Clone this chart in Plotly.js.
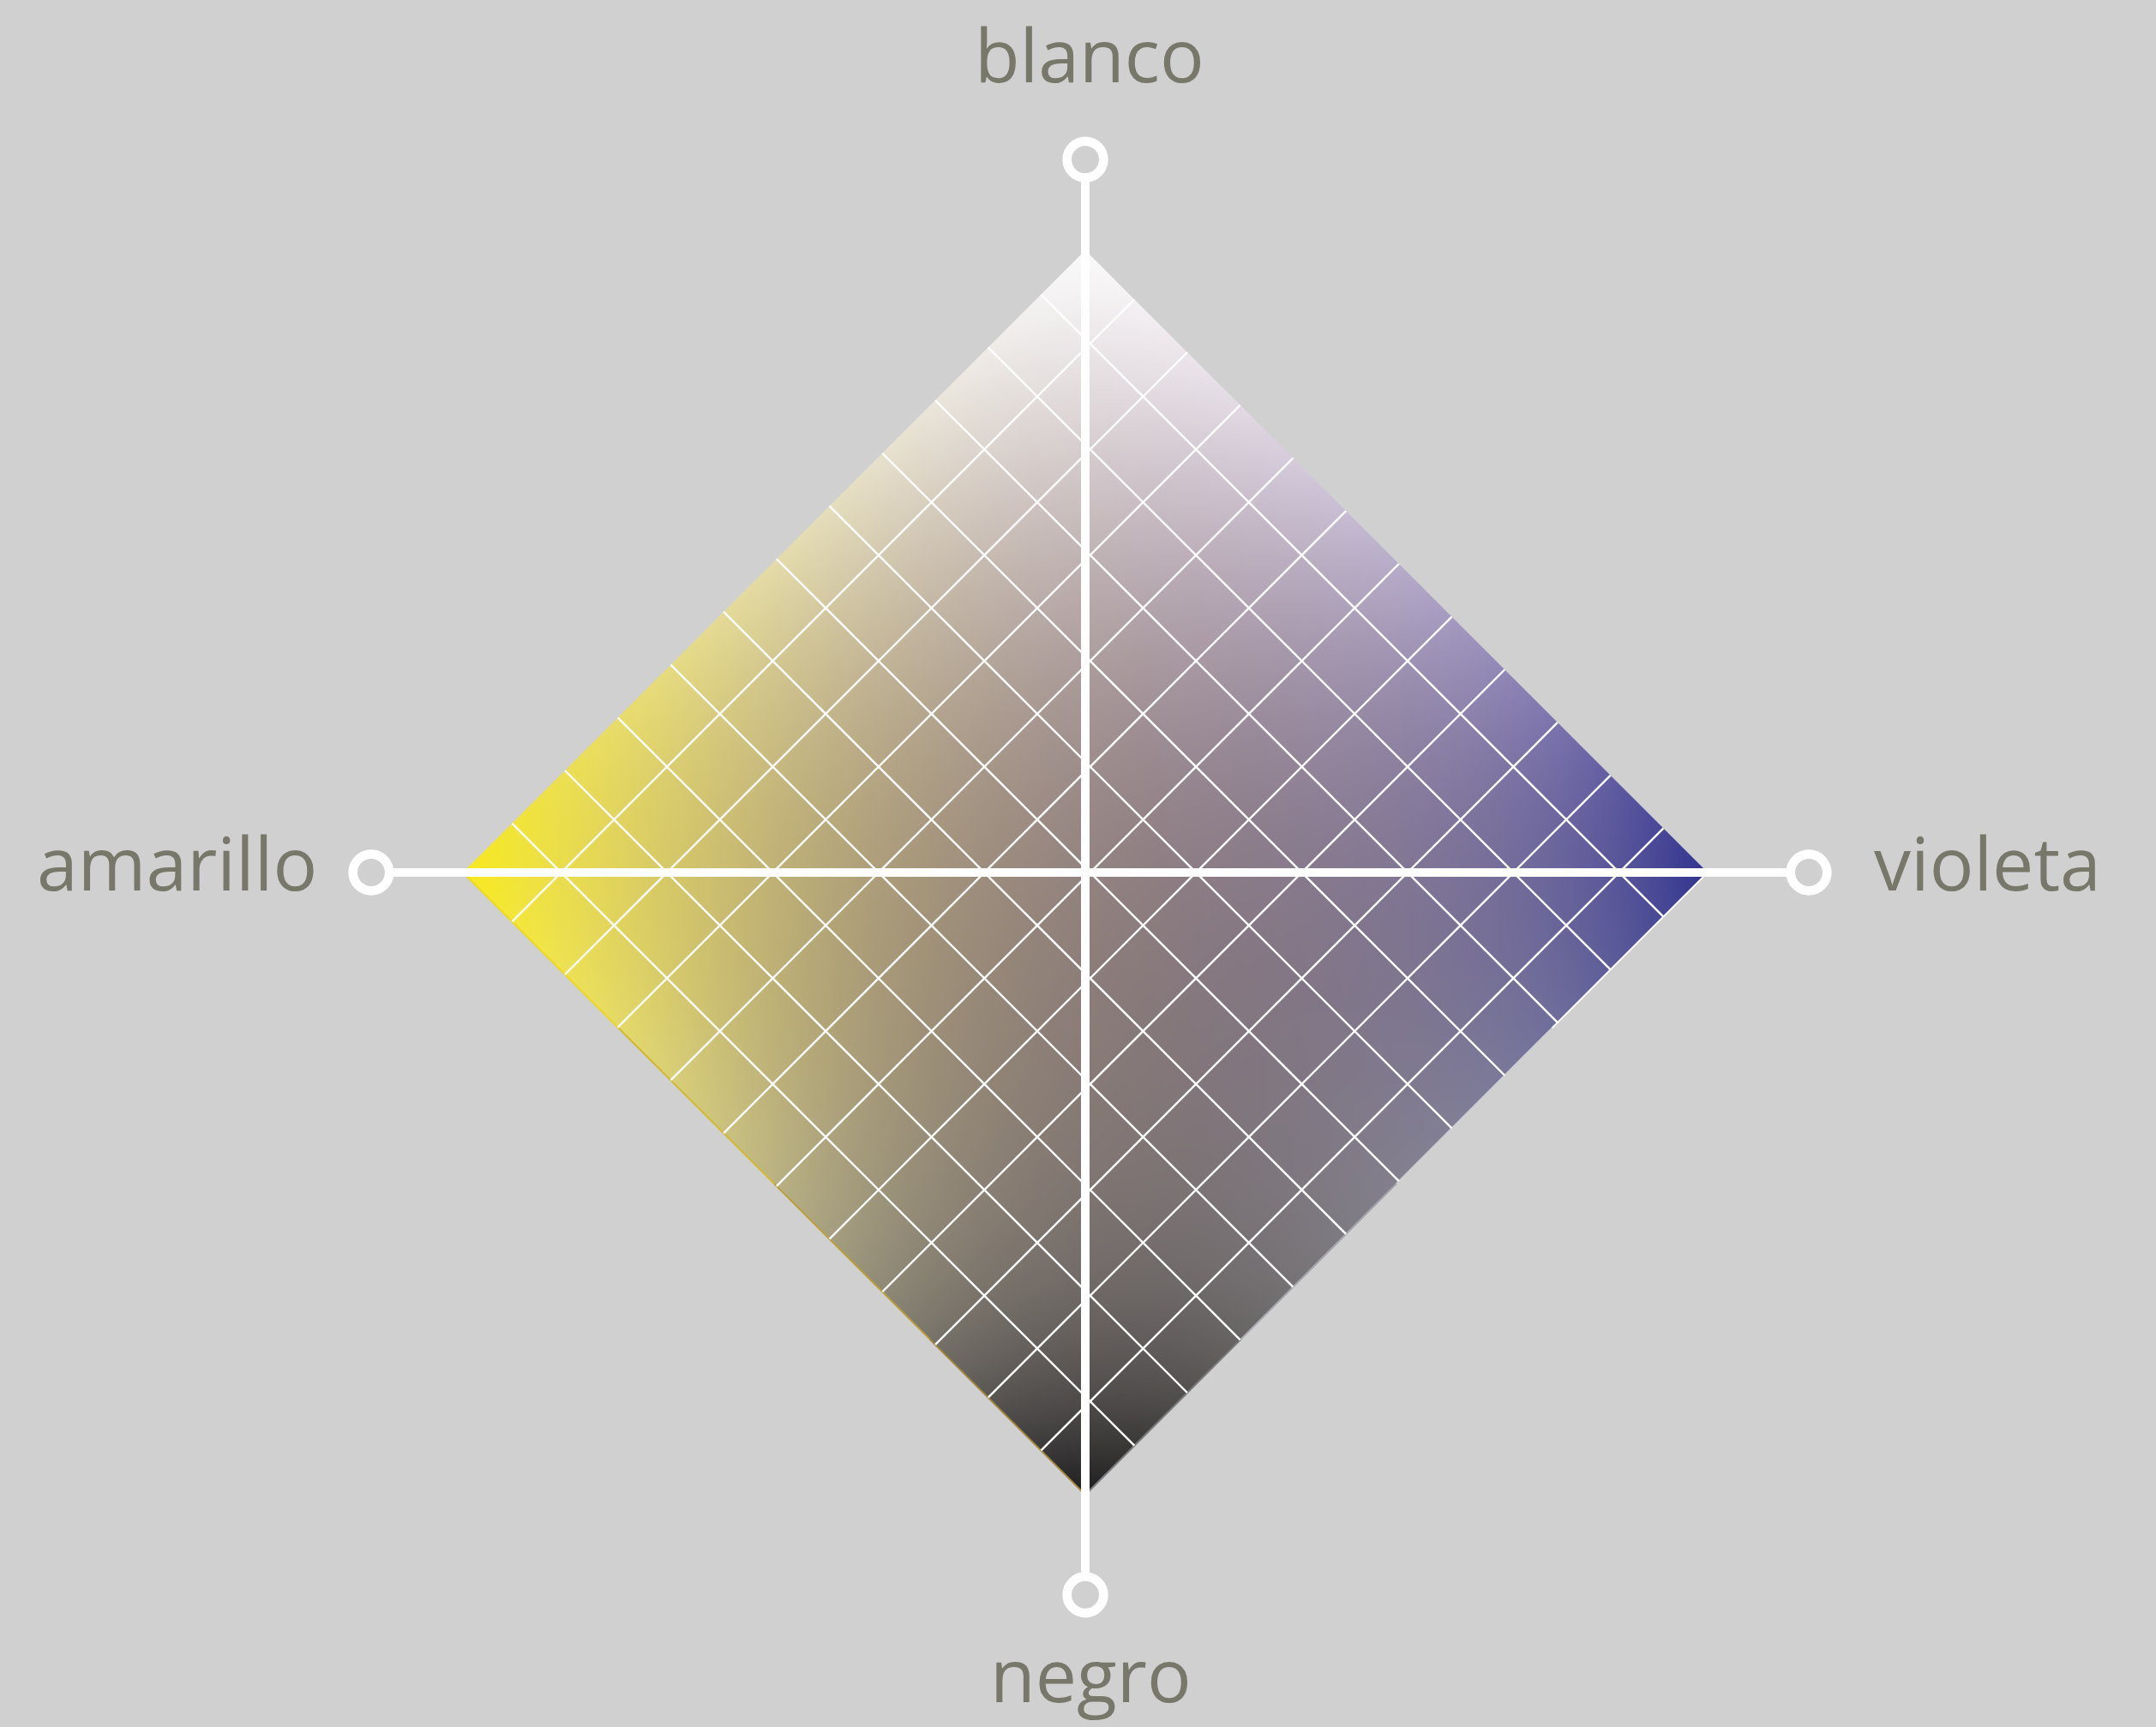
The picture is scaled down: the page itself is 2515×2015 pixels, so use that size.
<!DOCTYPE html>
<html><head><meta charset="utf-8">
<script src="https://cdn.plot.ly/plotly-3.0.1.min.js"></script>
<style>html,body{margin:0;padding:0;background:#d0d0d0;overflow:hidden}</style>
</head><body><div id="chart" style="width:2515px;height:2015px"></div>
<script>
// ---------------- data ----------------
const poles = ['blanco', 'negro', 'amarillo', 'violeta'];
const halfCells = 12;                       // diamond half-diagonal, in grid units
const gridSteps = [-5, -4, -3, -2, -1, 0, 1, 2, 3, 4, 5];
// colour samples (RGB)
// rows go from the amarillo–blanco edge to the negro–violeta edge
const colorRowTop    = [[247, 233, 28], [228, 219, 170], [250, 250, 250]];  // amarillo → blanco
const colorRowMid    = [[186, 178, 130], [147, 131, 128], [184, 173, 202]]; // amarillo/negro → centre → blanco/violeta
const colorRowBottom = [[30, 29, 30],   [130, 127, 141], [48, 50, 142]];    // negro → violeta
// thin strokes seen on the two lower edges
const edgeAmNe = [[238, 218, 20], [210, 185, 45], [185, 160, 60], [160, 135, 60]];
const edgeNeVi = [[120, 120, 125], [165, 165, 172], [205, 205, 212], [250, 250, 252]];

// ---------------- layout constants ----------------
const W = 2515, H = 2015;
const U = 60.5;              // pixels per grid unit
const CX = 1266, CY = 1018;  // centre of the axes, in page pixels
const gridShift = 0.094;     // the cell lattice sits slightly right of the axis
const gridPitch = 2.04;      // lattice pitch along the axes
const poleX = [0, 0, -13.77, 13.95];
const poleY = [13.75, -13.93, 0, 0];
const BG = '#d0d0d0';
const TXT = '#77786a';

// ---------------- gradient image ----------------
function L0(t){return 2*(t-0.5)*(t-1);}
function L1(t){return -4*t*(t-1);}
function L2(t){return 2*t*(t-0.5);}
const rows = [colorRowTop, colorRowMid, colorRowBottom];
function colorAt(a, b){
  const wa = [L0(a), L1(a), L2(a)], wb = [L0(b), L1(b), L2(b)];
  const c = [0,0,0];
  for (let r=0;r<3;r++) for (let q=0;q<3;q++) for (let k=0;k<3;k++) c[k] += wb[r]*wa[q]*rows[r][q][k];
  return c.map(v => Math.max(0, Math.min(255, v)));
}
const N = 620;
const ext = halfCells;
const dpx = 2*ext/N;
const z = [];
for (let i=0;i<N;i++){
  const y = -ext + (i+0.5)*dpx;
  const row = [];
  for (let j=0;j<N;j++){
    const x = -ext + (j+0.5)*dpx;
    let a = (x + ext + y)/(2*ext), b = (x + ext - y)/(2*ext);
    if (a < -0.03 || a > 1.03 || b < -0.03 || b > 1.03){ row.push([0,0,0,0]); continue; }
    a = Math.max(0, Math.min(1, a)); b = Math.max(0, Math.min(1, b));
    const c = colorAt(a, b);
    row.push([c[0], c[1], c[2], 1]);
  }
  z.push(row);
}

const traces = [];
traces.push({type:'image', z:z, colormodel:'rgba', x0:-ext+dpx/2, dx:dpx, y0:-ext+dpx/2, dy:dpx, hoverinfo:'skip'});

// masks outside the diamond
const m = 0.8;
const masks = [
  [[-ext,0],[0,ext],[0,ext+m],[-ext-m,ext+m],[-ext-m,0]],
  [[0,ext],[ext,0],[ext+m,0],[ext+m,ext+m],[0,ext+m]],
  [[ext,0],[0,-ext],[0,-ext-m],[ext+m,-ext-m],[ext+m,0]],
  [[0,-ext],[-ext,0],[-ext-m,0],[-ext-m,-ext-m],[0,-ext-m]]
];
masks.forEach(p => traces.push({type:'scatter', mode:'lines', x:p.map(v=>v[0]), y:p.map(v=>v[1]),
  fill:'toself', fillcolor:BG, line:{width:0, color:BG}, hoverinfo:'skip'}));

// thin strokes on the lower edges
function edgeStroke(cols, p0, p1){
  const n = cols.length;
  cols.forEach((c, i) => {
    const t0 = i/n, t1 = (i+1)/n;
    traces.push({type:'scatter', mode:'lines',
      x:[p0[0]+(p1[0]-p0[0])*t0, p0[0]+(p1[0]-p0[0])*t1],
      y:[p0[1]+(p1[1]-p0[1])*t0, p0[1]+(p1[1]-p0[1])*t1],
      line:{color:'rgb('+c.join(',')+')', width:2}, hoverinfo:'skip'});
  });
}
edgeStroke(edgeAmNe, [-ext, 0], [0, -ext]);
edgeStroke(edgeNeVi, [0, -ext], [ext, 0]);

// cell lattice, clipped to the diamond
const gx = [], gy = [];
gridSteps.forEach(k => {
  const c = gridShift + k*gridPitch;
  gx.push((c-ext)/2, (c+ext)/2, null); gy.push((c+ext)/2, (c-ext)/2, null);   // x + y = c
  gx.push((c+ext)/2, (c-ext)/2, null); gy.push((ext-c)/2, (-ext-c)/2, null);  // x - y = c
});
traces.push({type:'scatter', mode:'lines', x:gx, y:gy, line:{color:'#ffffff', width:2.4}, hoverinfo:'skip', connectgaps:false});

// main axes
traces.push({type:'scatter', mode:'lines', x:[poleX[2], poleX[3]], y:[0,0], line:{color:'#ffffff', width:10}, hoverinfo:'skip'});
traces.push({type:'scatter', mode:'lines', x:[0,0], y:[poleY[1], poleY[0]], line:{color:'#ffffff', width:10}, hoverinfo:'skip'});
// pole rings
traces.push({type:'scatter', mode:'markers', x:poleX, y:poleY, text:poles,
  marker:{symbol:'circle', size:42.6, color:BG, line:{color:'#ffffff', width:10.7}}, hoverinfo:'text'});

const f = {family:'"Open Sans", "Noto Sans", sans-serif', size:86, color:TXT};
const annotations = [
  {text:poles[0], x:0.09,  y:15.79, xanchor:'center', yanchor:'middle'},
  {text:poles[1], x:0.107, y:-15.44, xanchor:'center', yanchor:'middle'},
  {text:poles[2], x:-14.78, y:0.2, xanchor:'right', yanchor:'middle'},
  {text:poles[3], x:15.17, y:0.2, xanchor:'left', yanchor:'middle'}
].map(a => Object.assign(a, {xref:'x', yref:'y', showarrow:false, font:f}));

const layout = {
  width:W, height:H, margin:{l:0,r:0,t:0,b:0,pad:0},
  paper_bgcolor:BG, plot_bgcolor:BG, showlegend:false,
  xaxis:{range:[-CX/U, (W-CX)/U], visible:false, fixedrange:true},
  yaxis:{range:[(CY-H)/U, CY/U], visible:false, fixedrange:true, scaleanchor:'x', scaleratio:1},
  annotations:annotations
};
Plotly.newPlot('chart', traces, layout, {displayModeBar:false, staticPlot:true});
</script></body></html>
